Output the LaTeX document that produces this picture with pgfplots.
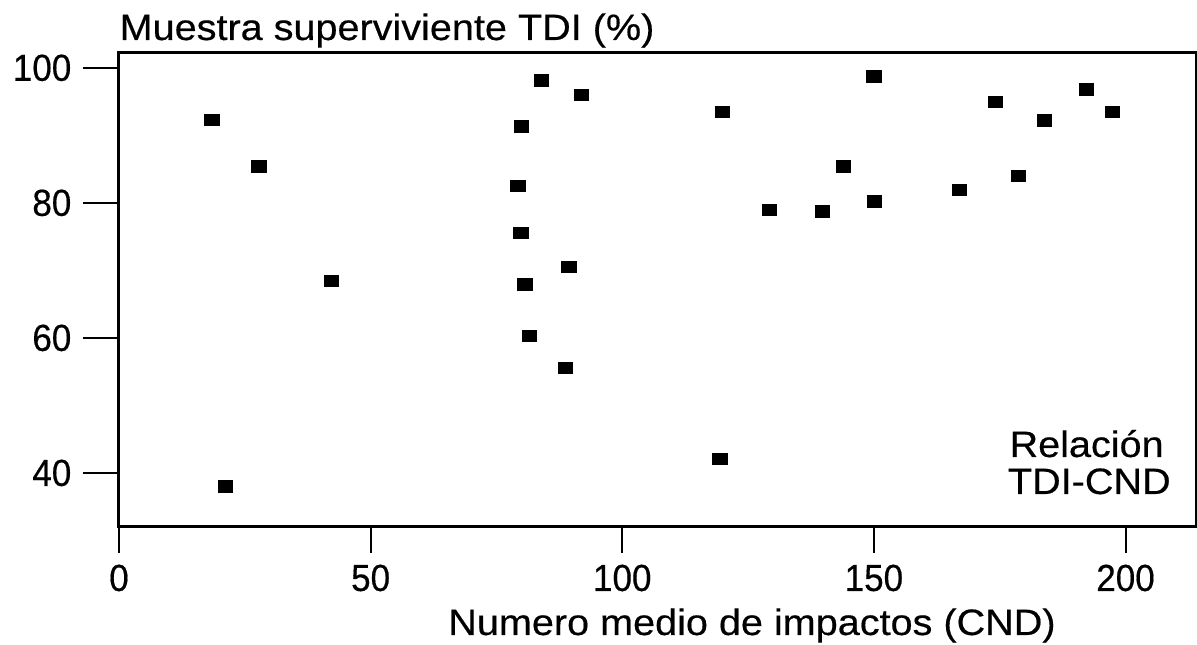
\documentclass[border=0pt]{standalone}
\usepackage{fontspec}
\setmainfont{Liberation Sans}[FakeBold=0.4]
\newfontfamily\widefont{Liberation Sans}[FakeStretch=1.08, FakeBold=0.4]
\newfontfamily\tickfont{Liberation Sans}[FakeStretch=0.93, FakeBold=0.4]
\usepackage{pgfplots}
\pgfplotsset{compat=1.18}

\begin{document}
\begin{tikzpicture}
\begin{axis}[
    name=ax,
    scale only axis,
    width=323.1pt, height=142.2pt,
    xmin=0, xmax=214, ymin=32, ymax=102.2,
    xtick={0,50,100,150,200},
    ytick={40,60,80,100},
    xtick pos=bottom, ytick pos=left,
    tick align=outside,
    major tick length=7.8pt,
    y tick style={/pgfplots/major tick length=10.8pt},
    minor tick num=0,
    axis line style={line width=0.9pt},
    tick style={line width=0.6pt, black},
    /pgf/number format/assume math mode=true,
    ticklabel style={font=\tickfont\fontsize{11.3}{13}\selectfont, inner sep=0pt},
    xticklabel style={anchor=north, yshift=-3.3pt},
    yticklabel style={anchor=east, xshift=-6.3pt},
    clip=false,
]
\addplot[only marks, mark=square*, mark size=1.65pt,
    mark options={xscale=1.27, black, fill=black}] coordinates {
    (18.5,92.3)(27.8,85.4)(42.2,68.4)(21.1,38.0)
    (84.0,98.1)(91.9,96.0)(119.9,93.5)(80.0,91.3)
    (79.3,82.5)(79.9,75.5)(89.4,70.5)(80.7,67.9)
    (81.5,60.3)(88.7,55.5)(119.4,42.1)
    (150.0,98.7)(143.9,85.4)(129.2,78.9)(139.8,78.7)
    (150.1,80.2)(167.0,81.9)(174.2,94.9)(183.9,92.2)
    (192.3,96.8)(197.4,93.5)(178.7,84.0)
};
\end{axis}
% title, axis label and note
\node[anchor=base west, inner sep=0pt, font=\widefont\fontsize{11}{12}\selectfont]
    at ([yshift=3.9pt]ax.north west) {Muestra superviviente TDI (\%)};
\node[anchor=base, inner sep=0pt, font=\widefont\fontsize{11}{12}\selectfont]
    at ([xshift=189.9pt, yshift=-32.4pt]ax.south west) {Numero medio de impactos (CND)};
\node[anchor=base east, inner sep=0pt, font=\widefont\fontsize{11}{12}\selectfont]
    at ([xshift=-9.5pt, yshift=21pt]ax.south east) {Relación};
\node[anchor=base east, inner sep=0pt, font=\widefont\fontsize{11}{12}\selectfont]
    at ([xshift=-7.4pt, yshift=9.9pt]ax.south east) {TDI-CND};
\pgfresetboundingbox
\path ([xshift=-35.7pt, yshift=-35.4pt]ax.south west) rectangle ([xshift=0.3pt, yshift=15.9pt]ax.north east);
\end{tikzpicture}
\end{document}
